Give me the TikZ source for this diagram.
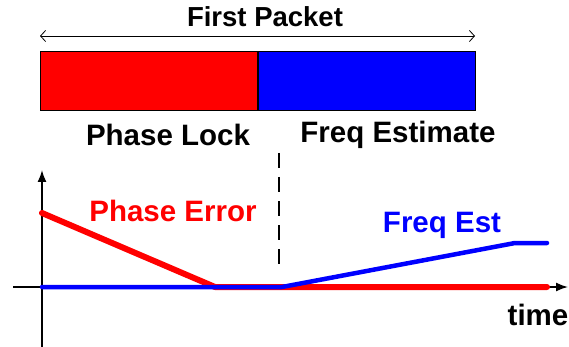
\documentclass[tikz,border=0pt]{standalone}
\usepackage{fontspec}
\setmainfont{Liberation Sans}
\usetikzlibrary{arrows.meta,positioning}

\tikzset{
  part/.style={draw,line width=1.2pt,minimum width=217pt,minimum height=59pt,inner sep=0pt},
  lbl/.style={font=\fontsize{29.5}{32}\selectfont\bfseries,inner sep=0pt},
  trace/.style={line cap=round,line join=round}
}

\begin{document}
\begin{tikzpicture}[x=1pt,y=-1pt,>=Latex]
\useasboundingbox (0,0) rectangle (569,347);
% packet
\node[part,fill=red,anchor=north west] (lock) at (40,51) {};
\node[part,fill=blue,right=0pt of lock] (est) {};
\coordinate (pl) at (40,36); \coordinate (pr) at (475,36);
\draw[thick,{Straight Barb[length=5pt,width=11pt]}-{Straight Barb[length=5pt,width=11pt]}] (pl)--(pr);
\node[lbl,font=\fontsize{27.5}{30}\selectfont\bfseries] (first) at (265,17) {First Packet};
\node[lbl] (locklbl) at (168,135) {Phase Lock};
\node[lbl] (estlbl) at (398,135) {Freq Estimate};
\coordinate (d1) at (279,153); \coordinate (d2) at (279,264);
\draw[line width=1.8pt,dash pattern=on 15pt off 9pt] (d1)--(d2);
% axes
\coordinate (o) at (42,287);
\coordinate (ybot) at (42,347); \coordinate (ytop) at (42,170);
\coordinate (xl) at (13,287); \coordinate (xr) at (568,287);
\draw[line width=1.6pt,-{Latex[length=12pt,width=9pt]}] (ybot)--(ytop);
\draw[line width=1.6pt,-{Latex[length=12pt,width=9pt]}] (xl)--(xr);
% traces
\coordinate (p0) at (42,213); \coordinate (p1) at (215,287); \coordinate (p2) at (547,287);
\coordinate (f1) at (282,287); \coordinate (f2) at (515,243); \coordinate (f3) at (547,243);
\draw[trace,red,line width=6pt] (p0)--(p1)--(p2);
\draw[trace,blue,line width=4.5pt] (o)--(f1)--(f2)--(f3);
\node[lbl,red] (perr) at (173,211) {Phase Error};
\node[lbl,blue] (fest) at (442,225) {Freq Est};
\node[lbl] (time) at (538,315) {time};
\end{tikzpicture}
\end{document}
